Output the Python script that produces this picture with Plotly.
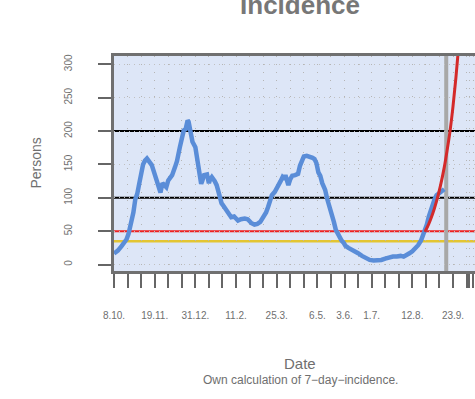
import pandas as pd
import plotly.graph_objects as go

BASE = pd.Timestamp("2020-10-08")

# Observed 7-day incidence (day offset from 8.10.2020, value)
obs_days = [0, 4, 8, 11, 13, 15, 18, 20, 22, 24, 26, 28, 30, 32, 34, 36, 39, 41, 44, 46,
            48, 50, 52, 54, 56, 58, 60, 63, 65, 68, 70, 72, 74, 76, 77, 78, 80, 81, 84, 86,
            87, 88, 90, 91, 93, 96, 98, 99, 101, 104, 106, 109, 111, 114, 116, 119, 121, 124, 126, 128,
            131, 135, 138, 140, 142, 145, 148, 151, 154, 157, 159, 161, 163, 166, 169, 172, 174, 176, 177, 179,
            180, 182, 184, 187, 190, 192, 194, 196, 199, 202, 205, 207, 209, 211, 213, 215, 218, 220, 223, 225,
            227, 229, 231, 233, 235, 237, 239, 242, 245, 249, 252, 256, 260, 264, 268, 272, 276, 280, 284, 288,
            292, 296, 299, 302, 305, 308, 311, 314, 317, 320, 323, 325, 327, 329, 331, 333, 336, 339, 341]
obs_vals = [16.5, 21, 28, 33, 38, 46, 62, 78, 98, 106, 121, 140, 150, 156, 159, 155, 149, 140, 126, 118,
            108, 122, 120, 116, 126, 131, 134, 146, 155, 176, 190, 201, 203, 216, 214, 204, 190, 184, 176, 160,
            144, 140, 121, 125, 134, 135, 122, 127, 131, 125, 119, 103, 92, 86, 81, 74, 71, 72, 69, 66,
            68, 69, 68, 65, 62, 60, 61, 64, 71, 78, 86, 96, 104, 109, 119, 125, 131, 128, 134, 124,
            119, 128, 133, 134, 136, 148, 158, 162, 163, 162, 160, 158, 152, 138, 133, 122, 112, 99, 86, 75,
            64, 52, 46, 41, 36, 33, 28, 25, 23, 20, 17, 13, 9, 7, 6, 6, 7, 9, 11, 12,
            12, 13, 12, 14, 17, 20, 24, 29, 36, 46, 60, 72, 82, 92, 98, 104, 108, 111, 113]

# Projection (red)
proj_days = [321, 325, 329, 333, 337, 341, 344, 347, 350, 353, 356, 359]
proj_vals = [49, 61, 76, 95, 118, 146, 172, 201, 237, 280, 330, 390]

# Reference levels
level_black = [100, 200]
level_red = 50
level_gold = 35
today = "2021-09-16"

label_dates = ["2020-10-08", "2020-11-19", "2020-12-31", "2021-02-11", "2021-03-25",
               "2021-05-06", "2021-06-03", "2021-07-01", "2021-08-12", "2021-09-23"]
label_texts = ["8.10.", "19.11.", "31.12.", "11.2.", "25.3.", "6.5.", "3.6.", "1.7.", "12.8.", "23.9."]
extra_ticks = ["2021-10-10", "2021-10-14"]
y_ticks = [0, 50, 100, 150, 200, 250, 300]

obs_x = BASE + pd.to_timedelta(obs_days, unit="D")
proj_x = BASE + pd.to_timedelta(proj_days, unit="D")

tick_dates = list(pd.date_range("2020-10-08", "2021-10-07", freq="14D")) + [pd.Timestamp(d) for d in extra_ticks]
lab_map = {pd.Timestamp(d): t for d, t in zip(label_dates, label_texts)}
tick_text = [lab_map.get(d, "") for d in tick_dates]

GRAY = "#6f6f6f"
FONT = "Liberation Sans, Arial, sans-serif"

fig = go.Figure()
fig.add_trace(go.Scatter(x=obs_x, y=obs_vals, mode="lines",
                         line=dict(color="#5a8dd8", width=4.5), hoverinfo="skip"))
fig.add_trace(go.Scatter(x=proj_x, y=proj_vals, mode="lines", line_shape="spline",
                         line=dict(color="#d42a2a", width=3), hoverinfo="skip"))

for lv in level_black:
    fig.add_shape(type="line", xref="paper", x0=0, x1=1, yref="y", y0=lv, y1=lv,
                  line=dict(color="black", width=2), layer="between")
fig.add_shape(type="line", xref="paper", x0=0, x1=1, yref="y", y0=level_red, y1=level_red,
              line=dict(color="#ee2222", width=2), layer="between")
fig.add_shape(type="line", xref="paper", x0=0, x1=1, yref="y", y0=level_gold, y1=level_gold,
              line=dict(color="#e3c532", width=2.5), layer="between")
fig.add_shape(type="line", xref="x", x0=today, x1=today, yref="paper", y0=0, y1=1,
              line=dict(color="#a8a8a8", width=4), layer="between")

x_end = BASE + pd.Timedelta(days=372.7)

fig.update_layout(
    width=475, height=399,
    margin=dict(l=114, r=0, t=56, b=128),
    paper_bgcolor="white", plot_bgcolor="#dde6f7",
    showlegend=False,
    font=dict(family=FONT, color=GRAY),
    title=dict(text="<b>Incidence</b>", x=300 / 475, xanchor="center",
               y=1 - 4.5 / 399, yanchor="middle", yref="container",
               font=dict(size=26, color="#777777", family=FONT)),
    xaxis=dict(range=[BASE, x_end], tickvals=tick_dates, ticktext=tick_text,
               ticks="outside", ticklen=14, tickwidth=2, tickcolor="#666666",
               tickfont=dict(size=10, color=GRAY), tickangle=0,
               ticklabelstandoff=19,
               showline=True, linecolor="#707070", linewidth=2.5, mirror=True,
               showgrid=True, gridcolor="#b5b5b5", gridwidth=1, griddash="1px,7px",
               zeroline=False, fixedrange=True),
    yaxis=dict(range=[-9.6, 312.5], tickvals=y_ticks,
               ticks="outside", ticklen=13, tickwidth=2, tickcolor="#666666",
               tickfont=dict(size=10, color=GRAY), tickangle=-90,
               ticklabelstandoff=22,
               showline=True, linecolor="#707070", linewidth=2.5,
               showgrid=True, gridcolor="#c0c0c0", gridwidth=1, griddash="1px,4px",
               zeroline=False, fixedrange=True),
)

fig.add_annotation(text="Persons", xref="paper", x=0, xshift=-79, xanchor="center",
                   yref="paper", y=0.5, yanchor="middle",
                   textangle=-90, showarrow=False, font=dict(size=14, color=GRAY))
fig.add_annotation(text="Date", xref="paper", x=(300 - 114) / 361, xanchor="center",
                   yref="paper", y=0, yanchor="middle",
                   yshift=-92, showarrow=False, font=dict(size=15, color=GRAY))
fig.add_annotation(text="Own calculation of 7\u2212day\u2212incidence.", xref="paper",
                   x=(300 - 114) / 361, xanchor="center", yref="paper", y=0, yanchor="middle",
                   yshift=-109, showarrow=False,
                   font=dict(size=12, color=GRAY))

fig.write_html("out.html", config={"displayModeBar": False},
               post_script="document.body.style.margin='0';document.body.style.overflow='hidden';")
